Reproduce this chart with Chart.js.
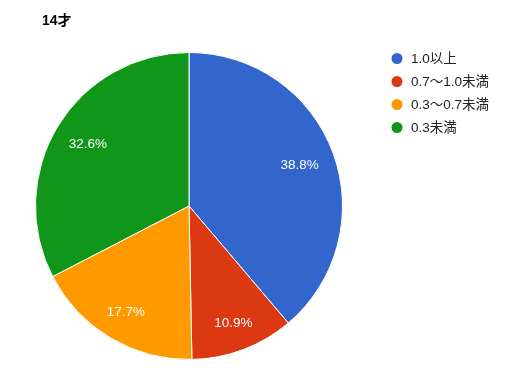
<!DOCTYPE html>
<html>
<head>
<meta charset="utf-8">
<script src="https://cdn.jsdelivr.net/npm/chart.js@4/dist/chart.umd.min.js"></script>
<style>
  html, body { margin: 0; padding: 0; background: #fff; }
  #wrap { position: relative; width: 506px; height: 371px; }
</style>
</head>
<body>
<div id="wrap"><canvas id="pie" width="506" height="371"></canvas></div>
<script>
const TITLE = '14才';
const labels = ['1.0以上', '0.7～1.0未満', '0.3～0.7未満', '0.3未満'];
const values = [38.8, 10.9, 17.7, 32.6];
const colors = ['#3366CC', '#DC3912', '#FF9900', '#109618'];

const FONT = 'Arial, "Liberation Sans", "Noto Sans CJK JP", sans-serif';

// percentage text inside each slice, title and legend drawn by hand
const pieText = {
    id: 'pieText',
    afterDatasetsDraw(chart) {
        const ctx = chart.ctx;
        const meta = chart.getDatasetMeta(0);
        const total = values.reduce((s, v) => s + v, 0);
        ctx.save();
        ctx.font = '13.5px ' + FONT;
        ctx.fillStyle = '#fff';
        ctx.textAlign = 'center';
        ctx.textBaseline = 'middle';
        meta.data.forEach((arc, i) => {
            const mid = (arc.startAngle + arc.endAngle) / 2;
            const pct = (values[i] / total * 100).toFixed(1) + '%';
            const w = ctx.measureText(pct).width;
            // keep the text box's outer edge at a fixed distance from the rim
            const ext = Math.abs(Math.cos(mid)) * w / 2 + Math.abs(Math.sin(mid)) * 5.5;
            const r = arc.outerRadius * 0.897 - ext;
            ctx.fillText(pct, arc.x + Math.cos(mid) * r, arc.y + Math.sin(mid) * r);
        });

        // title
        ctx.font = 'bold 14px ' + FONT;
        ctx.fillStyle = '#000';
        ctx.textAlign = 'left';
        ctx.fillText(TITLE, 42, 21.5);

        // legend
        ctx.font = '13.5px ' + FONT;
        labels.forEach((l, i) => {
            const y = 58.5 + i * 23;
            ctx.beginPath();
            ctx.arc(397, y, 5.5, 0, Math.PI * 2);
            ctx.fillStyle = colors[i];
            ctx.fill();
            ctx.fillStyle = '#222';
            ctx.fillText(l, 411, y + 0.5);
        });
        ctx.restore();
    }
};

new Chart(document.getElementById('pie').getContext('2d'), {
    type: 'pie',
    data: {
        labels: labels,
        datasets: [{ data: values, backgroundColor: colors, borderColor: '#fff', borderWidth: 1 }]
    },
    options: {
        responsive: false,
        animation: false,
        layout: { padding: { left: 35, top: 52, right: 163, bottom: 11 } },
        plugins: { legend: { display: false }, tooltip: { enabled: false }, title: { display: false } }
    },
    plugins: [pieText]
});
</script>
</body>
</html>
